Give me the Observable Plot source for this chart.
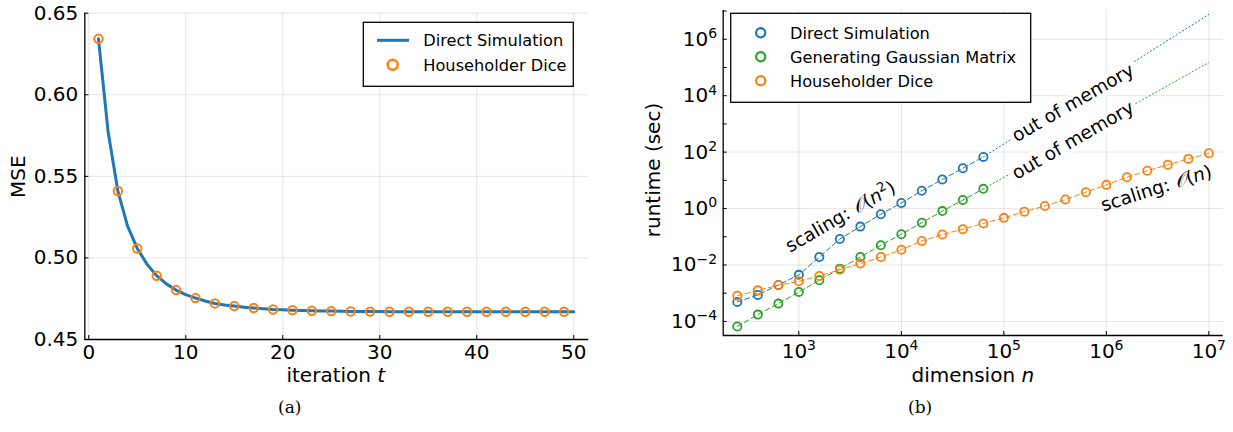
<!DOCTYPE html>
<html><head><meta charset="utf-8">
<script src="https://cdn.jsdelivr.net/npm/d3@7"></script>
<script src="https://cdn.jsdelivr.net/npm/@observablehq/plot@0.6"></script>
<style>
body{margin:0;background:#fff;}
#wrap{position:relative;width:1233px;height:432px;overflow:hidden;background:#fff;font-family:"DejaVu Sans",sans-serif;}
#a{position:absolute;left:0;top:0;}
#b{position:absolute;left:620px;top:0;}
.cap{position:absolute;top:397px;font-family:"DejaVu Serif",serif;font-size:17px;color:#000;}
</style></head><body>
<div id="wrap"><div id="a"></div><div id="b"></div>
<div class="cap" style="left:278px">(a)</div>
<div class="cap" style="left:908px">(b)</div>
</div>
<script>
const blue = "#1f77b4", orange = "#ff7f0e", green = "#2ca02c";

// ---------- Panel (a) data ----------
const iterations = [1,2,3,4,5,6,7,8,9,10,11,12,13,14,15,16,17,18,19,20,21,22,23,24,25,26,27,28,29,30,31,32,33,34,35,36,37,38,39,40,41,42,43,44,45,46,47,48,49,50];
const mseDirect = [0.6343,0.5770,0.5410,0.5195,0.5058,0.4962,0.4891,0.4841,0.4803,0.4775,0.4754,0.4736,0.4721,0.4712,0.4705,0.4698,0.4693,0.4688,0.4684,0.4682,0.4680,0.4678,0.4676,0.4675,0.4674,0.4673,0.4672,0.4672,0.4671,0.4671,0.4670,0.4670,0.4670,0.4670,0.4670,0.4670,0.4670,0.4670,0.4670,0.4670,0.4670,0.4670,0.4670,0.4670,0.4670,0.4670,0.4670,0.4670,0.4670,0.4670];
const diceIterations = [1,3,5,7,9,11,13,15,17,19,21,23,25,27,29,31,33,35,37,39,41,43,45,47,49];
const mseDice = [0.6343,0.5410,0.5058,0.4891,0.4803,0.4754,0.4721,0.4705,0.4693,0.4684,0.4680,0.4676,0.4674,0.4672,0.4671,0.4670,0.4670,0.4670,0.4670,0.4670,0.4670,0.4670,0.4670,0.4670,0.4670];
const xTicksA = [0,10,20,30,40,50];
const yTicksA = [0.45,0.50,0.55,0.60,0.65];
const xDomA = [-0.41, 51.55];
const yDomA = [0.45, 0.65];

// ---------- Panel (b) data ----------
const dims = [251,398,631,1000,1585,2512,3981,6310,10000,15849,25119,39811,63096,100000,158489,251189,398107,630957,1000000,1584893,2511886,3981072,6309573,10000000];
const runtimeDirect = [4.9e-4,8.7e-4,1.95e-3,4.47e-3,1.91e-2,8.3e-2,0.229,0.63,1.58,4.27,10.7,26.9,67.6];
const runtimeGaussian = [6.6e-5,1.74e-4,4.27e-4,1.10e-3,2.88e-3,7.4e-3,1.91e-2,5.0e-2,0.123,0.316,0.813,2.0,5.0];
const runtimeDice = [8.1e-4,1.26e-3,1.91e-3,2.63e-3,4.07e-3,6.76e-3,1.12e-2,1.91e-2,3.47e-2,7.08e-2,0.120,0.186,0.295,0.468,0.776,1.23,2.09,3.80,6.92,12.9,21.9,35.5,57.5,91.2];
const extrapN = [63096, 10000000];
const extrapDirect = [67.6, 7.6e6];
const extrapGaussian = [5.0, 1.5e5];
const xTicksB = [1e3,1e4,1e5,1e6,1e7];
const yTicksB = [1e-4,1e-2,1,1e2,1e4,1e6];
const yMinorB = [1e-3,1e-1,1e1,1e3,1e5,1e7];
const xDomB = [Math.pow(10,2.262), Math.pow(10,7.14)];
const yDomB = [Math.pow(10,-4.5), Math.pow(10,7.02)];
const annotations = [
  {n: 2553, t: 0.509, label: "scaling: O(n^2)", angle: -30},
  {n: 3.08e6, t: 5.1, label: "scaling: O(n)", angle: -17.5}
];
const memoryNotes = [
  {n: 473000, t: 5500, label: "out of memory", angle: -30},
  {n: 473000, t: 257, label: "out of memory", angle: -30}
];

const seriesA = iterations.map((t,i)=>({t, mse: mseDirect[i]}));
const diceA = diceIterations.map((t,i)=>({t, mse: mseDice[i]}));
const rows = (vals, name) => vals.map((v,i)=>({n: dims[i], t: v, s: name}));
const extrap = (vals) => extrapN.map((n,i)=>({n, t: vals[i]}));

const grid = {stroke: "#000", strokeOpacity: 0.1, strokeWidth: 1};

const chartA = Plot.plot({
  width: 600, height: 432,
  marginLeft: 84.3, marginRight: 11.7, marginTop: 12.7, marginBottom: 93,
  style: {fontFamily: "DejaVu Sans", fontSize: "20px", background: "white", overflow: "visible"},
  x: {type: "linear", domain: xDomA},
  y: {type: "linear", domain: yDomA},
  marks: [
    Plot.gridX(xTicksA, grid),
    Plot.gridY(yTicksA, grid),
    Plot.ruleX([xDomA[0]], {stroke: "#000", strokeWidth: 1.3}),
    Plot.ruleY([yDomA[0]], {stroke: "#000", strokeWidth: 1.3}),
    Plot.axisX(xTicksA, {tickSize: -4, tickPadding: 9, label: null, fontSize: 20}),
    Plot.axisY(yTicksA, {tickSize: -4, tickPadding: 10.5, label: null, fontSize: 20, tickFormat: d3.format(".2f")}),
    Plot.line(seriesA, {x: "t", y: "mse", stroke: blue, strokeWidth: 3}),
    Plot.dot(diceA, {x: "t", y: "mse", r: 4.2, stroke: orange, strokeWidth: 2, fill: "none"})
  ]
});

const fmtPow = d => "10^" + String(Math.round(Math.log10(d))).replace("-", "\u2212");

const chartB = Plot.plot({
  width: 613, height: 432,
  marginLeft: 102.7, marginRight: 10.3, marginTop: 10, marginBottom: 97,
  style: {fontFamily: "DejaVu Sans", fontSize: "20px", background: "white", overflow: "visible"},
  x: {type: "log", domain: xDomB},
  y: {type: "log", domain: yDomB},
  marks: [
    Plot.gridX(xTicksB, grid),
    Plot.gridY(yTicksB, grid),
    Plot.ruleX([xDomB[0]], {stroke: "#000", strokeWidth: 1.3}),
    Plot.ruleY([yDomB[0]], {stroke: "#000", strokeWidth: 1.3}),
    Plot.axisX(xTicksB, {tickSize: -4, tickPadding: 12, label: null, fontSize: 20, tickFormat: fmtPow}),
    Plot.axisY(yTicksB, {tickSize: -4, tickPadding: 10, label: null, fontSize: 20, tickFormat: fmtPow}),
    Plot.axisY(yMinorB, {tickSize: -4, tickPadding: 10, label: null, fontSize: 20, tickFormat: () => ""}),
    Plot.line(extrap(extrapDirect), {x: "n", y: "t", stroke: blue, strokeWidth: 1, strokeDasharray: "1.2,2.6"}),
    Plot.line(extrap(extrapGaussian), {x: "n", y: "t", stroke: green, strokeWidth: 1, strokeDasharray: "1.2,2.6"}),
    Plot.line(rows(runtimeDirect, "d"), {x: "n", y: "t", stroke: blue, strokeWidth: 1, strokeDasharray: "5,3"}),
    Plot.line(rows(runtimeGaussian, "g"), {x: "n", y: "t", stroke: green, strokeWidth: 1, strokeDasharray: "5,3"}),
    Plot.line(rows(runtimeDice, "h"), {x: "n", y: "t", stroke: orange, strokeWidth: 1, strokeDasharray: "5,3"}),
    Plot.dot(rows(runtimeDirect, "d"), {x: "n", y: "t", r: 4.1, stroke: blue, strokeWidth: 1.8, fill: "none"}),
    Plot.dot(rows(runtimeGaussian, "g"), {x: "n", y: "t", r: 4.1, stroke: green, strokeWidth: 1.8, fill: "none"}),
    Plot.dot(rows(runtimeDice, "h"), {x: "n", y: "t", r: 4.1, stroke: orange, strokeWidth: 1.8, fill: "none"}),
    Plot.text(memoryNotes, {x: "n", y: "t", text: "label", rotate: "angle", fontSize: 18.5, fill: "#000", stroke: "white", strokeWidth: 9, strokeLinejoin: "round", paintOrder: "stroke"}),
    Plot.text(annotations, {x: "n", y: "t", text: "label", rotate: "angle", fontSize: 18.5, fill: "#000"})
  ]
});

document.getElementById("a").appendChild(chartA);
document.getElementById("b").appendChild(chartB);

// superscript tick labels
function supify(svg) {
  d3.select(svg).selectAll('g[aria-label$="tick label"] text').each(function() {
    const s = this.textContent;
    if (!s.includes("^")) return;
    const [b, e] = s.split("^");
    this.textContent = "";
    d3.select(this).append("tspan").text(b);
    d3.select(this).append("tspan").attr("dy", -7.5).attr("font-size", 14).text(e);
  });
}
supify(chartB);

// rich math text for annotations
d3.select(chartB).selectAll('g[aria-label="text"] text').each(function() {
  const s = this.textContent;
  const m = s.match(/^scaling: O\(n(\^2)?\)$/);
  if (!m) return;
  const el = d3.select(this);
  this.textContent = "";
  el.append("tspan").text("scaling: ");
  el.append("tspan").attr("font-family", "DejaVu Serif").attr("font-style", "italic").text("\u{1D4AA}");
  el.append("tspan").text("(");
  el.append("tspan").attr("font-style", "italic").text("n");
  if (m[1]) {
    el.append("tspan").attr("dy", -7).attr("font-size", 13).text("2");
    el.append("tspan").attr("dy", 7).text(")");
  } else {
    el.append("tspan").text(")");
  }
});

// axis titles
function title(svg, x, y, parts, rotate) {
  const t = d3.select(svg).append("text")
    .attr("font-family", "DejaVu Sans").attr("font-size", 20).attr("fill", "#000")
    .attr("text-anchor", "middle")
    .attr("transform", `translate(${x},${y})` + (rotate ? ` rotate(${rotate})` : ""));
  parts.forEach(p => t.append("tspan").attr("font-style", p.it ? "italic" : null).text(p.t));
}
title(chartA, 335.8, 382, [{t: "iteration "}, {t: "t", it: true}]);
title(chartA, 25, 176.7, [{t: "MSE"}], -90);
title(chartB, 972.8 - 620, 382, [{t: "dimension "}, {t: "n", it: true}]);
title(chartB, 660 - 620, 170, [{t: "runtime (sec)"}], -90);

// legends
function legend(svg, box, entries) {
  const g = d3.select(svg).append("g").attr("text-anchor", "start");
  g.append("rect").attr("x", box.x).attr("y", box.y).attr("width", box.w).attr("height", box.h)
    .attr("fill", "white").attr("stroke", "#000").attr("stroke-width", 1.3);
  entries.forEach(e => {
    if (e.kind === "line") {
      g.append("line").attr("x1", e.mx - 16).attr("x2", e.mx + 16).attr("y1", e.y).attr("y2", e.y)
        .attr("stroke", e.color).attr("stroke-width", 3);
    } else {
      g.append("circle").attr("cx", e.mx).attr("cy", e.y).attr("r", e.r).attr("fill", "none")
        .attr("stroke", e.color).attr("stroke-width", e.sw);
    }
    g.append("text").attr("x", e.tx).attr("y", e.y).attr("dy", "0.36em").attr("text-anchor", "start")
      .attr("font-family", "DejaVu Sans").attr("font-size", 16.2).attr("fill", "#000").text(e.label);
  });
}
legend(chartA, {x: 363.3, y: 22.3, w: 210, h: 64}, [
  {kind: "line", mx: 393, y: 40.3, tx: 423.3, color: blue, label: "Direct Simulation"},
  {kind: "dot", mx: 392.7, y: 64.8, tx: 423.3, color: orange, r: 5, sw: 2.5, label: "Householder Dice"}
]);
legend(chartB, {x: 110.7, y: 13.3, w: 300, h: 89}, [
  {kind: "dot", mx: 140.7, y: 32.7, tx: 170, color: blue, r: 4.6, sw: 2.2, label: "Direct Simulation"},
  {kind: "dot", mx: 140.7, y: 56.7, tx: 170, color: green, r: 4.6, sw: 2.2, label: "Generating Gaussian Matrix"},
  {kind: "dot", mx: 140.7, y: 80.7, tx: 170, color: orange, r: 4.6, sw: 2.2, label: "Householder Dice"}
]);
</script>
</body></html>
